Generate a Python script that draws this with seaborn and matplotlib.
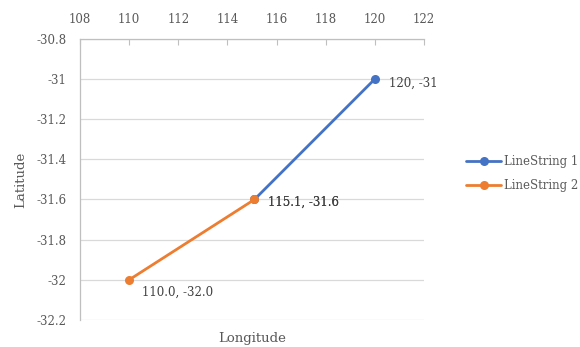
import pandas as pd
import seaborn as sns
import matplotlib.pyplot as plt
from matplotlib.ticker import FuncFormatter, MultipleLocator

# Data
series = ['LineString 1', 'LineString 1', 'LineString 2', 'LineString 2']
lon = [115.1, 120.0, 110.0, 115.1]
lat = [-31.6, -31.0, -32.0, -31.6]
point_labels = ['115.1, -31.6', '120, -31', '110.0, -32.0', '115.1, -31.6']

colors = {'LineString 1': '#4472C4', 'LineString 2': '#ED7D31'}

df = pd.DataFrame({'series': series, 'lon': lon, 'lat': lat, 'label': point_labels})

sns.set_style('white')
plt.rcParams['font.family'] = ['DejaVu Serif']
text_color = '#595959'

fig = plt.figure(figsize=(5.8, 3.47), dpi=100)
ax = fig.add_axes([0.138, 0.078, 0.593, 0.81])

sns.lineplot(
    data=df, x='lon', y='lat', hue='series',
    palette=colors, marker='o', markersize=6.5,
    markeredgewidth=0, linewidth=2, sort=False,
    estimator=None, ax=ax
)

# Data labels
offsets = {
    '120, -31': (10, -8),
    '115.1, -31.6': (10, -7),
    '110.0, -32.0': (9, -14),
}
for _, r in df.iterrows():
    dx, dy = offsets[r['label']]
    ax.annotate(r['label'], (r['lon'], r['lat']), xytext=(dx, dy),
                textcoords='offset points', fontsize=8.5, color='#404040',
                ha='left', va='bottom')

ax.set_xlim(108, 122)
ax.set_ylim(-32.2, -30.8)
ax.xaxis.set_major_locator(MultipleLocator(2))
ax.yaxis.set_major_locator(MultipleLocator(0.2))
ax.yaxis.set_major_formatter(FuncFormatter(lambda v, p: ('%.1f' % v).rstrip('0').rstrip('.')))

ax.xaxis.tick_top()
ax.tick_params(axis='x', direction='in', length=4, color='#BFBFBF',
               labelsize=8.5, labelcolor=text_color, pad=9)
ax.tick_params(axis='y', length=0, labelsize=8.5, labelcolor=text_color, pad=10)

ax.grid(axis='y', color='#D9D9D9', linewidth=0.9)
ax.set_axisbelow(True)
for s in ['right', 'bottom']:
    ax.spines[s].set_visible(False)
for s in ['top', 'left']:
    ax.spines[s].set_color('#BFBFBF')
    ax.spines[s].set_linewidth(0.9)

ax.set_xlabel('Longitude', fontsize=9.5, color=text_color, labelpad=9)
ax.xaxis.set_label_position('bottom')
ax.set_ylabel('Latitude', fontsize=9.5, color=text_color, labelpad=6)

handles, labels = ax.get_legend_handles_labels()
ax.legend_.remove()
fig.legend(handles, labels, loc='center left', bbox_to_anchor=(0.785, 0.5),
           frameon=False, fontsize=8.5, labelcolor=text_color,
           handlelength=3, handletextpad=0.2, labelspacing=0.9)

fig.savefig('out.png', dpi=100)
